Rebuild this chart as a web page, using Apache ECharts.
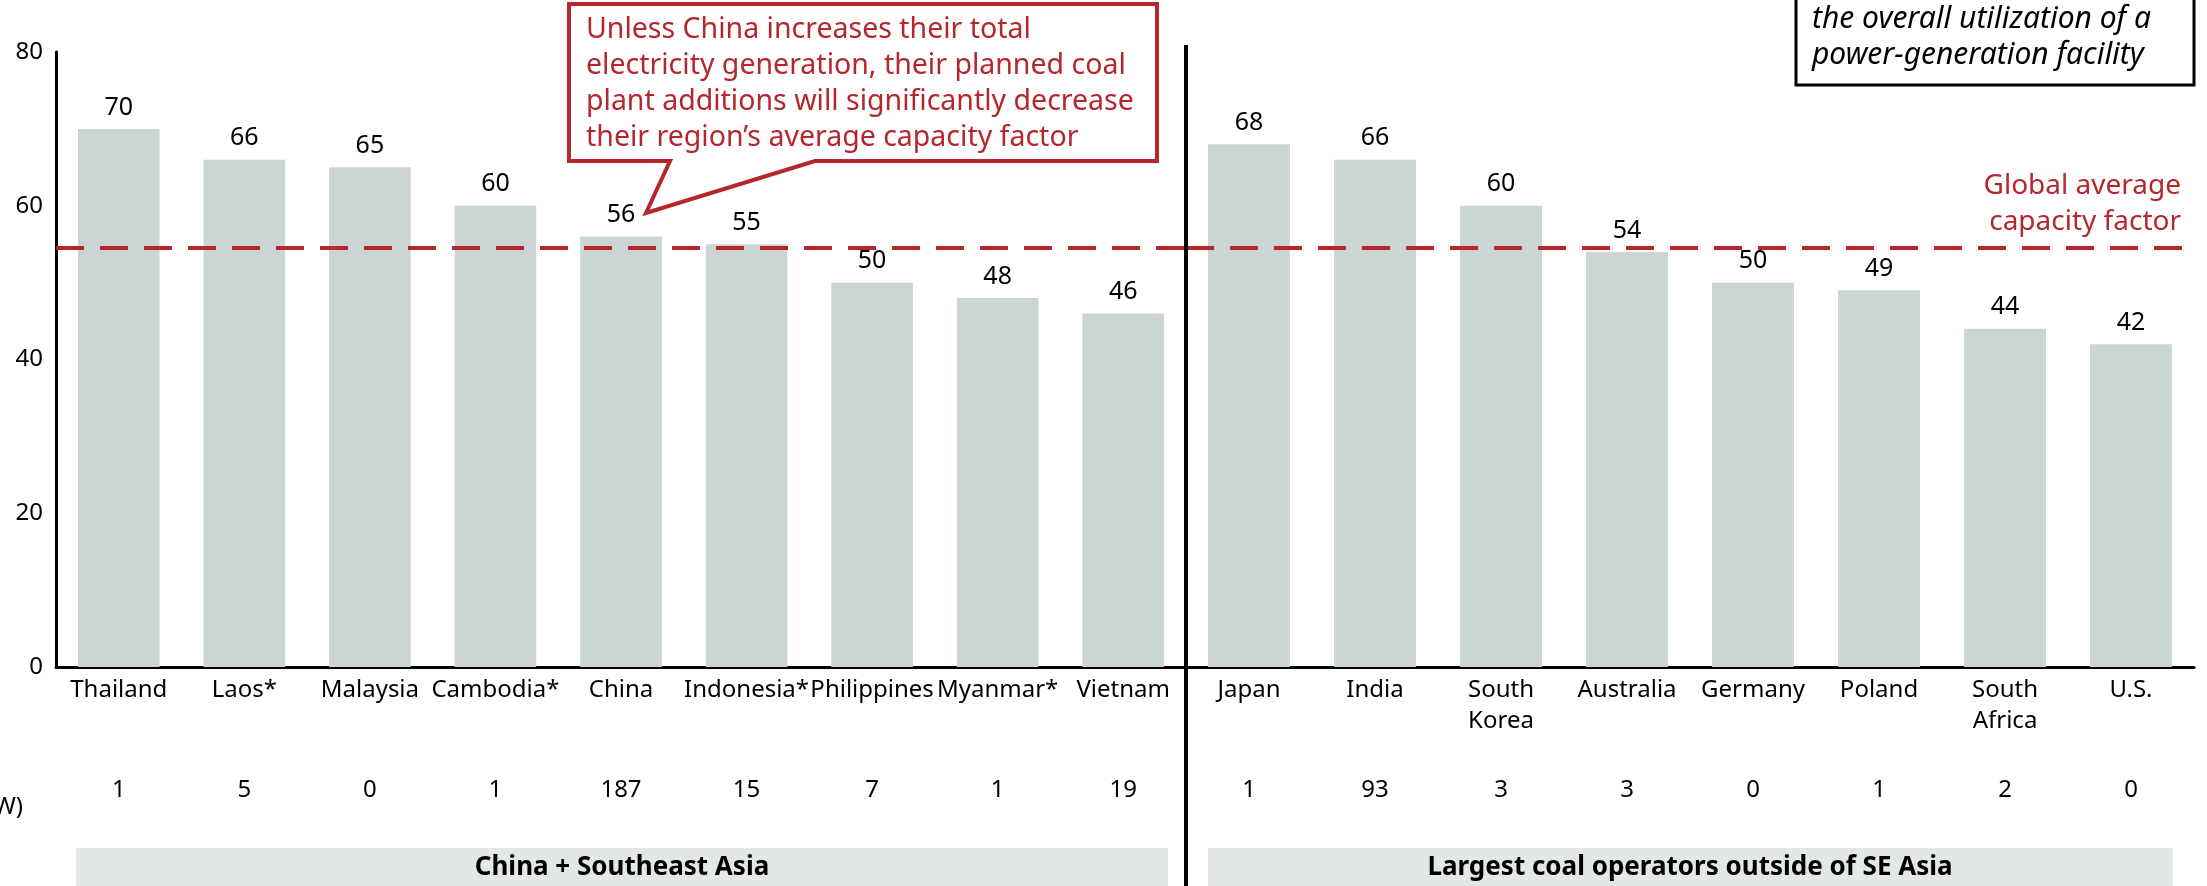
<!DOCTYPE html>
<html>
<head>
<meta charset="utf-8">
<script src="https://cdn.jsdelivr.net/npm/echarts@6/dist/echarts.min.js"></script>
<style>
  html, body { margin: 0; padding: 0; background: #fff; }
  #chart { width: 2207px; height: 886px; }
</style>
</head>
<body>
<div id="chart"></div>
<script>
// capacity factor (%) by country, two groups
const seaCountries = ['Thailand', 'Laos*', 'Malaysia', 'Cambodia*', 'China', 'Indonesia*', 'Philippines', 'Myanmar*', 'Vietnam'];
const seaFactor = [70, 66, 65, 60, 56, 55, 50, 48, 46];
const seaPlanned = [1, 5, 0, 1, 187, 15, 7, 1, 19];

const otherCountries = ['Japan', 'India', 'South Korea', 'Australia', 'Germany', 'Poland', 'South Africa', 'U.S.'];
const otherFactor = [68, 66, 60, 54, 50, 49, 44, 42];
const otherPlanned = [1, 93, 3, 3, 0, 1, 2, 0];

const globalAvg = 54.5;
const yTicks = [0, 20, 40, 60, 80];

const RED = '#b5262d';
const BAR = '#cbd5d4';
const FONT = 'Noto Sans';

var chart = echarts.init(document.getElementById('chart'));

function catAxis(gridIndex, data, wrap) {
    return {
        type: 'category',
        gridIndex: gridIndex,
        data: data,
        axisLine: {show: true, lineStyle: {color: '#000', width: 3}},
        axisTick: {show: false},
        axisLabel: {
            margin: 8,
            fontSize: 24,
            lineHeight: 31,
            color: '#000',
            fontFamily: FONT,
            interval: 0,
            formatter: function (v) { return wrap ? v.replace(' ', '\n') : v; }
        }
    };
}

function plannedAxis(gridIndex, data, planned) {
    return {
        type: 'category',
        gridIndex: gridIndex,
        data: data,
        position: 'bottom',
        offset: 100,
        axisLine: {show: false},
        axisTick: {show: false},
        axisLabel: {
            margin: 8,
            fontSize: 24,
            lineHeight: 31,
            color: '#000',
            fontFamily: FONT,
            interval: 0,
            formatter: function (v, i) { return String(planned[i]); }
        }
    };
}

function valAxis(gridIndex, visible) {
    return {
        type: 'value',
        gridIndex: gridIndex,
        min: yTicks[0],
        max: yTicks[yTicks.length - 1],
        interval: 20,
        splitLine: {show: false},
        axisTick: {show: false},
        axisLine: {show: visible, lineStyle: {color: '#000', width: 3}},
        axisLabel: {show: visible, margin: 13, fontSize: 24, color: '#000', fontFamily: FONT}
    };
}

function barSeries(xi, yi, values) {
    return {
        type: 'bar',
        xAxisIndex: xi,
        yAxisIndex: yi,
        data: values,
        barWidth: '65%',
        itemStyle: {color: BAR},
        label: {show: true, position: 'top', distance: 9, fontSize: 25, color: '#000', fontFamily: FONT},
        markLine: {
            silent: true,
            symbol: 'none',
            label: {show: false},
            lineStyle: {color: RED, width: 4, type: [28, 16]},
            data: [{yAxis: globalAvg}]
        },
        z: 2
    };
}

var option = {
    animation: false,
    textStyle: {fontFamily: FONT},
    grid: [
        {left: 56, width: 1130, top: 52, bottom: 219},
        {left: 1186, right: 13, top: 52, bottom: 219}
    ],
    xAxis: [
        catAxis(0, seaCountries, false),
        plannedAxis(0, seaCountries, seaPlanned),
        catAxis(1, otherCountries, true),
        plannedAxis(1, otherCountries, otherPlanned)
    ],
    yAxis: [valAxis(0, true), valAxis(1, false)],
    series: [
        barSeries(0, 0, seaFactor),
        barSeries(2, 1, otherFactor)
    ],
    graphic: [
        // divider between the two groups
        {type: 'line', z: 50, shape: {x1: 1186, y1: 45, x2: 1186, y2: 886}, style: {stroke: '#000', lineWidth: 4}},
        // group bands at the bottom
        {type: 'rect', shape: {x: 76, y: 848, width: 1092, height: 45}, style: {fill: '#e4e7e7'}},
        {type: 'text', style: {text: 'China + Southeast Asia', x: 622, y: 868, textAlign: 'center', textVerticalAlign: 'middle',
            fontSize: 26, fontWeight: 'bold', fontFamily: FONT, fill: '#000'}},
        {type: 'rect', shape: {x: 1208, y: 848, width: 965, height: 45}, style: {fill: '#e4e7e7'}},
        {type: 'text', style: {text: 'Largest coal operators outside of SE Asia', x: 1690, y: 868, textAlign: 'center', textVerticalAlign: 'middle',
            fontSize: 26, fontWeight: 'bold', fontFamily: FONT, fill: '#000'}},
        // row label, cut off at the left edge
        {type: 'text', style: {text: '(GW)', x: 23, y: 807, textAlign: 'right', textVerticalAlign: 'middle',
            fontSize: 24, fontFamily: FONT, fill: '#000'}},
        // global average label
        {type: 'text', z: 60, style: {text: 'Global average\ncapacity factor', x: 2181, y: 240, textAlign: 'right', textVerticalAlign: 'bottom',
            fontSize: 28, lineHeight: 36, fontFamily: FONT, fill: RED}},
        // callout bubble
        {type: 'polygon', z: 100, shape: {points: [[569, 4], [1157, 4], [1157, 161], [815, 161], [646, 213], [670, 161], [569, 161]]},
            style: {fill: '#fff', stroke: RED, lineWidth: 4}},
        {type: 'text', z: 101, style: {
            text: 'Unless China increases their total\nelectricity generation, their planned coal\nplant additions will significantly decrease\ntheir region\u2019s average capacity factor',
            x: 586, y: 12, textAlign: 'left', textVerticalAlign: 'top',
            fontSize: 28.5, lineHeight: 36, fontFamily: FONT, fill: RED}},
        // definition box, top right
        {type: 'rect', z: 100, shape: {x: 1796, y: -30, width: 398, height: 115}, style: {fill: '#fff', stroke: '#000', lineWidth: 3}},
        {type: 'text', z: 101, style: {
            text: 'the overall utilization of a\npower-generation facility',
            x: 1812, y: 1, textAlign: 'left', textVerticalAlign: 'top',
            fontSize: 30, lineHeight: 36, fontStyle: 'italic', fontFamily: FONT, fill: '#000'}}
    ]
};

chart.setOption(option);
</script>
</body>
</html>
